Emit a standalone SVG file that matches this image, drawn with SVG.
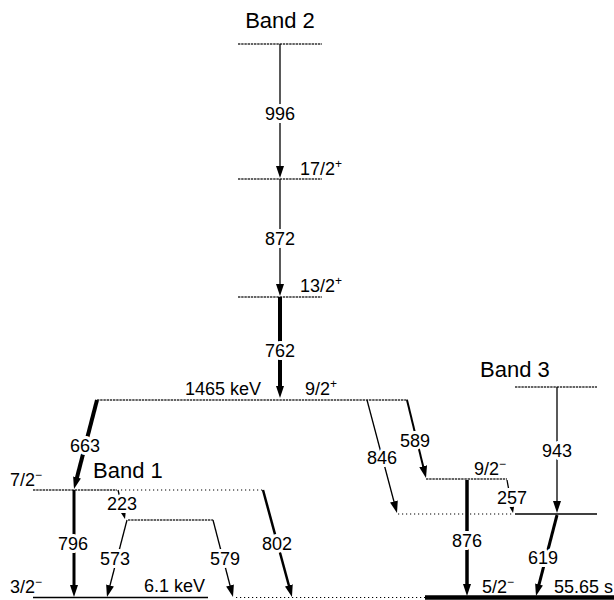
<svg xmlns="http://www.w3.org/2000/svg" width="614" height="600" viewBox="0 0 614 600">
<defs>
<style>
text{font-family:"Liberation Sans",Arial,sans-serif;font-size:18px;fill:#000}
.band{font-size:22px}
.lbl{text-anchor:middle;stroke:#fff;stroke-width:6;paint-order:stroke;stroke-linejoin:round}
.sup{font-size:12px}
.lev{stroke:#333;stroke-width:1.5;stroke-dasharray:2.4 0.8;fill:none}
.sol{stroke:#000;stroke-width:1.5;fill:none}
.dot{stroke:#000;stroke-width:1.2;stroke-dasharray:1.2 2.8;fill:none}
.gs{stroke:#000;stroke-width:4.5;fill:none}
.tr{stroke:#000;fill:none;marker-end:url(#ah)}
.trs{stroke:#000;fill:none;stroke-width:1.3;marker-end:url(#ahs)}
</style>
<marker id="ah" viewBox="0 0 12 8" markerWidth="12" markerHeight="8" refX="4" refY="4" orient="auto" markerUnits="userSpaceOnUse"><path d="M0,0 L12,4 L0,8 z" fill="#000"/></marker>
<marker id="ahs" viewBox="0 0 7 5" markerWidth="7" markerHeight="5" refX="3" refY="2.5" orient="auto" markerUnits="userSpaceOnUse"><path d="M0,0 L7,2.5 L0,5 z" fill="#000"/></marker>
</defs>
<rect width="614" height="600" fill="#fff"/>

<g id="band2-top"><line class="lev" x1="238" y1="44" x2="322" y2="44"/><text class="band" x="280" y="28" text-anchor="middle">Band 2</text></g>
<g id="level-17-2"><line class="lev" x1="238" y1="179" x2="322" y2="179"/><text x="300" y="175">17/2<tspan class="sup" dy="-7">+</tspan></text></g>
<g id="level-13-2"><line class="lev" x1="238" y1="297" x2="322" y2="297"/><text x="300" y="292">13/2<tspan class="sup" dy="-7">+</tspan></text></g>
<g id="level-1465"><line class="lev" x1="97" y1="400" x2="408" y2="400"/><text x="185" y="395">1465 keV</text><text x="305" y="395">9/2<tspan class="sup" dy="-7">+</tspan></text></g>
<g id="level-7-2"><line class="lev" x1="33" y1="490" x2="117" y2="490"/><line class="dot" x1="121" y1="490" x2="263" y2="490"/><text x="10" y="486">7/2<tspan class="sup" dy="-7">−</tspan></text><text class="band" x="93" y="478">Band 1</text></g>
<g id="level-520"><line class="lev" x1="128" y1="520" x2="213" y2="520"/></g>
<g id="level-3-2"><line class="sol" x1="33" y1="597.5" x2="208" y2="597.5"/><text x="10" y="593">3/2<tspan class="sup" dy="-7">−</tspan></text><text x="144" y="592">6.1 keV</text></g>
<g id="level-dot-597"><line class="dot" x1="236" y1="597.5" x2="425" y2="597.5"/></g>
<g id="level-ground"><line class="gs" x1="425" y1="597.5" x2="614" y2="597.5"/><text x="482" y="593">5/2<tspan class="sup" dy="-7">−</tspan></text><text x="613" y="593" text-anchor="end">55.65 s</text></g>
<g id="level-9-2m"><line class="lev" x1="426" y1="479" x2="507" y2="479"/><text x="474" y="475">9/2<tspan class="sup" dy="-7">−</tspan></text></g>
<g id="level-514"><line class="dot" x1="398" y1="514" x2="513" y2="514"/><line class="sol" x1="515" y1="514" x2="597" y2="514"/></g>
<g id="band3-top"><line class="lev" x1="515" y1="387" x2="597" y2="387"/><text class="band" x="480" y="377">Band 3</text></g>

<g id="transitions">
<line class="tr" stroke-width="1.3" x1="280" y1="44" x2="280" y2="170"/>
<line class="tr" stroke-width="1.3" x1="280" y1="179" x2="280" y2="288"/>
<line class="tr" stroke-width="4" x1="280" y1="297" x2="280" y2="390"/>
<line class="tr" stroke-width="4" x1="97" y1="400" x2="76" y2="481.25"/>
<line class="tr" stroke-width="3" x1="74" y1="490" x2="74" y2="589"/>
<line class="trs" x1="118" y1="490" x2="124.06" y2="515.1"/>
<line class="tr" stroke-width="1.3" x1="127" y1="520" x2="109" y2="589.26"/>
<line class="tr" stroke-width="1.3" x1="213" y1="520" x2="231" y2="589.26"/>
<line class="tr" stroke-width="2.5" x1="263" y1="490" x2="289.9" y2="589.28"/>
<line class="tr" stroke-width="1.3" x1="367" y1="400" x2="394.95" y2="505.27"/>
<line class="tr" stroke-width="2" x1="407" y1="400" x2="424.1" y2="470.2"/>
<line class="tr" stroke-width="3.5" x1="467" y1="480" x2="467" y2="588"/>
<line class="trs" x1="507" y1="480" x2="512.3" y2="509.1"/>
<line class="tr" stroke-width="1.3" x1="557" y1="387" x2="557" y2="505"/>
<line class="tr" stroke-width="3" x1="557" y1="515" x2="538" y2="588.26"/>
<text class="lbl" x="280" y="119.5">996</text>
<text class="lbl" x="280" y="244.5">872</text>
<text class="lbl" x="280" y="356.5">762</text>
<text class="lbl" x="85" y="451.5">663</text>
<text class="lbl" x="73" y="549.5">796</text>
<text class="lbl" x="122" y="509.5">223</text>
<text class="lbl" x="115" y="564.5">573</text>
<text class="lbl" x="225" y="564.5">579</text>
<text class="lbl" x="277" y="549.5">802</text>
<text class="lbl" x="382" y="463.5">846</text>
<text class="lbl" x="415" y="446.5">589</text>
<text class="lbl" x="467" y="546.5">876</text>
<text class="lbl" x="512" y="503.5">257</text>
<text class="lbl" x="557" y="456.5">943</text>
<text class="lbl" x="543" y="563.5">619</text>
</g>
</svg>
